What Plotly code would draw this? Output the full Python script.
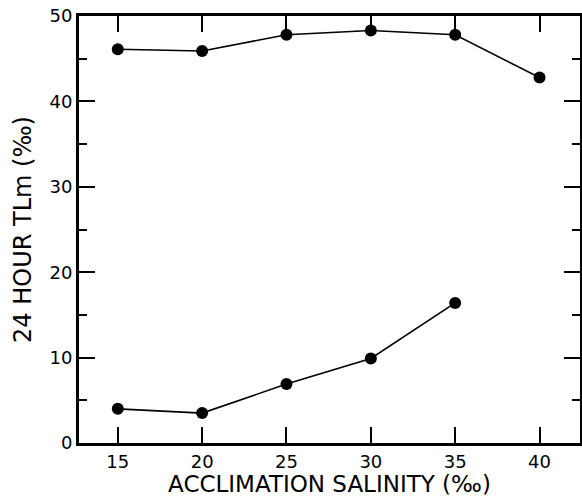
import plotly.graph_objects as go
from plotly.subplots import make_subplots

salinity_upper = [15, 20, 25, 30, 35, 40]
tlm_upper = [46.1, 45.9, 47.8, 48.3, 47.8, 42.8]
salinity_lower = [15, 20, 25, 30, 35]
tlm_lower = [4.0, 3.5, 6.9, 9.9, 16.4]
x_ticks = [15, 20, 25, 30, 35, 40]

FONT = "DejaVu Sans, sans-serif"

fig = make_subplots(rows=1, cols=1)
for xs, ys in [(salinity_upper, tlm_upper), (salinity_lower, tlm_lower)]:
    fig.add_trace(go.Scatter(
        x=xs, y=ys, mode="lines+markers",
        line=dict(color="black", width=1.6),
        marker=dict(color="black", size=12),
        showlegend=False,
    ), row=1, col=1)

fig.update_layout(
    width=582, height=497,
    margin=dict(l=79, r=2, t=16, b=54, autoexpand=False),
    plot_bgcolor="white", paper_bgcolor="white",
    font=dict(family=FONT, color="black", size=18),
    showlegend=False,
)
fig.update_xaxes(
    range=[12.7, 42.4], tickvals=x_ticks, automargin=False,
    showgrid=False, zeroline=False, showline=True, linecolor="black", linewidth=3,
    mirror="ticks", ticks="inside", ticklen=16, tickwidth=2, tickcolor="black",
    title=dict(text="ACCLIMATION SALINITY (‰)", font=dict(size=23), standoff=5),
    row=1, col=1,
)
fig.update_yaxes(
    range=[0, 50], dtick=10, automargin=False,
    showgrid=False, zeroline=False, showline=True, linecolor="black", linewidth=3,
    mirror="ticks", ticks="inside", ticklen=16, tickwidth=2, tickcolor="black",
    minor=dict(dtick=5, ticks="inside", ticklen=8, tickcolor="black"),
    title=dict(text="24 HOUR TLm (‰)", font=dict(size=24), standoff=12),
    row=1, col=1,
)
fig.write_html("out.html")
